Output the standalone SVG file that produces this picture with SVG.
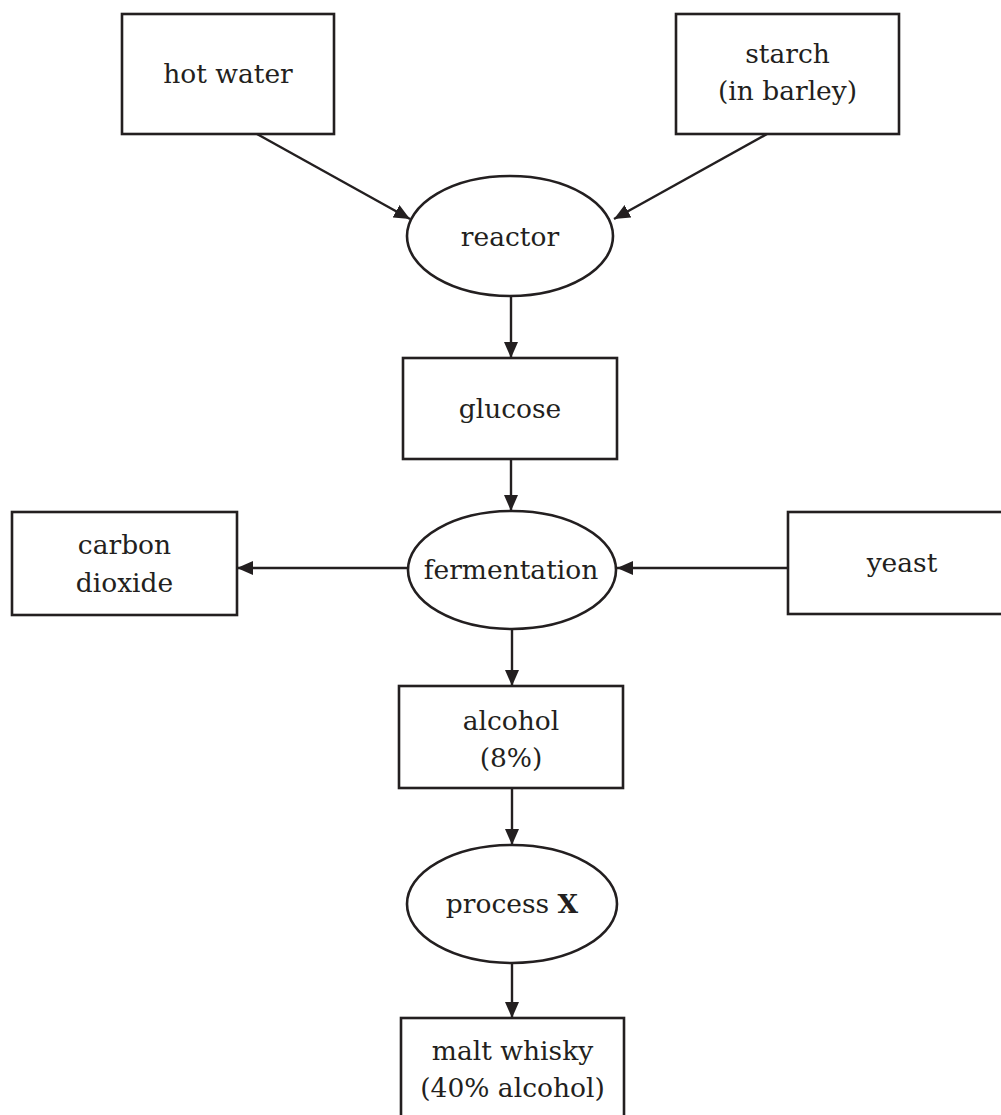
<svg xmlns="http://www.w3.org/2000/svg" width="1001" height="1115" viewBox="0 0 1001 1115">
<style>
.n{fill:#fff;stroke:#231f20;stroke-width:2.6}
.t{font-family:"DejaVu Serif","Liberation Serif",serif;font-size:26.5px;fill:#231f20;text-anchor:middle}
.c line{stroke:#231f20;stroke-width:2.4;marker-end:url(#ah)}
</style>
<defs>
<marker id="ah" markerUnits="userSpaceOnUse" markerWidth="18" markerHeight="15" refX="16" refY="7" orient="auto">
<path d="M0,0 L16,7 L0,14 Z" fill="#231f20"/>
</marker>
</defs>
<rect width="1001" height="1115" fill="#fff"/>
<g class="c" id="connectors">
<line x1="257" y1="134" x2="410" y2="219"/>
<line x1="767" y1="134" x2="614" y2="219"/>
<line x1="511" y1="296" x2="511" y2="358"/>
<line x1="511" y1="459" x2="511" y2="511"/>
<line x1="408" y1="568" x2="237" y2="568"/>
<line x1="788" y1="568" x2="617" y2="568"/>
<line x1="512" y1="629" x2="512" y2="686"/>
<line x1="512" y1="788" x2="512" y2="845"/>
<line x1="512" y1="963" x2="512" y2="1018"/>
</g>
<g id="hot-water"><rect class="n" x="122" y="14" width="212" height="120"/><text class="t" x="228" y="83">hot water</text></g>
<g id="starch"><rect class="n" x="676" y="14" width="223" height="120"/><text class="t" x="787.5" y="63">starch</text><text class="t" x="787.5" y="100">(in barley)</text></g>
<g id="reactor"><ellipse class="n" cx="510" cy="236" rx="103" ry="60"/><text class="t" x="510" y="246">reactor</text></g>
<g id="glucose"><rect class="n" x="403" y="358" width="214" height="101"/><text class="t" x="510" y="418">glucose</text></g>
<g id="fermentation"><ellipse class="n" cx="512" cy="570" rx="104" ry="59"/><text class="t" x="511" y="579">fermentation</text></g>
<g id="carbon-dioxide"><rect class="n" x="12" y="512" width="225" height="103"/><text class="t" x="124.5" y="554">carbon</text><text class="t" x="124.5" y="592">dioxide</text></g>
<g id="yeast"><rect class="n" x="788" y="512" width="228" height="102"/><text class="t" x="902" y="572">yeast</text></g>
<g id="alcohol"><rect class="n" x="399" y="686" width="224" height="102"/><text class="t" x="511" y="730">alcohol</text><text class="t" x="511" y="767">(8%)</text></g>
<g id="process-x"><ellipse class="n" cx="512" cy="904" rx="105" ry="59"/><text class="t" x="512" y="913">process <tspan font-weight="bold">X</tspan></text></g>
<g id="malt-whisky"><rect class="n" x="401" y="1018" width="223" height="120"/><text class="t" x="512.5" y="1060">malt whisky</text><text class="t" x="512.5" y="1097">(40% alcohol)</text></g>
</svg>
